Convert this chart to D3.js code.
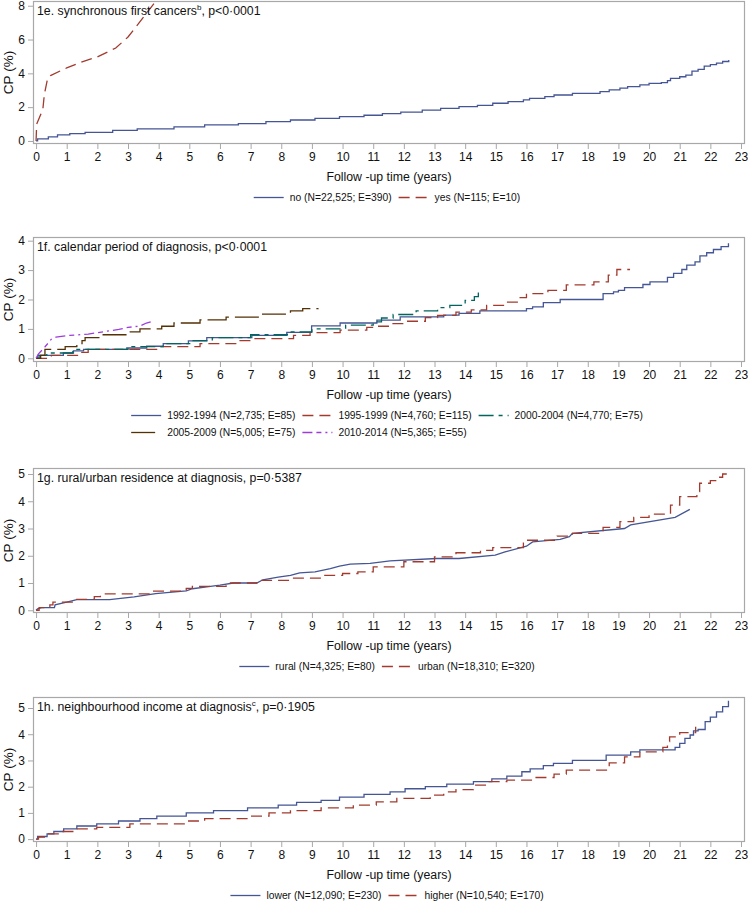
<!DOCTYPE html>
<html><head><meta charset="utf-8">
<script src="https://cdn.jsdelivr.net/npm/d3@7/dist/d3.min.js"></script>
<style>
body{margin:0;background:#fff}
svg{display:block}
text{font-family:"Liberation Sans",Arial,sans-serif;fill:#111}
</style>
</head><body>
<svg id="chart" width="748" height="904"></svg>
<script>
// ---------------- data ----------------
const xTickValues = [0,1,2,3,4,5,6,7,8,9,10,11,12,13,14,15,16,17,18,19,20,21,22,23];
const yTicksE = [0,2,4,6,8];
const yTicksF = [0,1,2,3,4];
const yTicksG = [0,1,2,3,4,5];
const yTicksH = [0,1,2,3,4,5];

const titleE = ["1e. synchronous first cancers","b",", p<0·0001"];
const titleF = ["1f. calendar period of diagnosis, p<0·0001","",""];
const titleG = ["1g. rural/urban residence at diagnosis, p=0·5387","",""];
const titleH = ["1h. neighbourhood income at diagnosis","c",", p=0·1905"];

const legendE = ["no (N=22,525; E=390)","yes (N=115; E=10)"];
const legendF = ["1992-1994 (N=2,735; E=85)","1995-1999 (N=4,760; E=115)","2000-2004 (N=4,770; E=75)","2005-2009 (N=5,005; E=75)","2010-2014 (N=5,365; E=55)"];
const legendG = ["rural (N=4,325; E=80)","urban (N=18,310; E=320)"];
const legendH = ["lower (N=12,090; E=230)","higher (N=10,540; E=170)"];

const xLabel = "Follow -up time (years)";
const yLabel = "CP (%)";

// 1e: synchronous first cancers
const eNo = [[0,0],[0.05,0.12],[0.4,0.24],[0.7,0.36],[1.1,0.43],[1.6,0.51],[2.5,0.63],[3.3,0.71],[4.5,0.83],[5.5,0.95],[6.6,1.03],[7.5,1.14],[8.3,1.24],[9.1,1.34],[9.9,1.44],[10.7,1.52],[11.3,1.62],[11.9,1.71],[12.6,1.83],[13.2,1.93],[13.8,2.03],[14.4,2.11],[14.9,2.23],[15.4,2.33],[15.9,2.43],[16.1,2.52],[16.6,2.62],[16.9,2.72],[17.5,2.82],[18.4,2.92],[18.7,3.02],[19.05,3.12],[19.3,3.22],[19.7,3.32],[20.0,3.41],[20.4,3.45],[20.6,3.57],[20.7,3.7],[21.0,3.8],[21.2,3.9],[21.4,4.13],[21.6,4.23],[21.8,4.43],[22.0,4.52],[22.2,4.61],[22.4,4.7],[22.6,4.79]];
const eYes = [[0,0],[0.02,1.0],[0.22,1.85],[0.27,2.75],[0.38,3.73],[0.47,3.87],[1.0,4.32],[1.55,4.71],[2.0,4.97],[2.6,5.5],[3.0,6.15],[3.88,8.2],[3.95,8.4]];

// 1f: calendar period
const f9294 = [[0,0],[0.05,0.1],[0.89,0.18],[1.22,0.25],[1.55,0.3],[2.96,0.35],[3.61,0.41],[4.15,0.5],[4.97,0.59],[5.57,0.7],[7.04,0.78],[8.18,0.88],[8.99,1.1],[9.92,1.2],[11.12,1.3],[11.88,1.41],[13.3,1.47],[13.8,1.53],[14.48,1.61],[16.0,1.69],[16.2,1.75],[16.55,1.89],[17.1,2.0],[18.5,2.2],[18.84,2.26],[19.0,2.31],[19.2,2.4],[19.8,2.51],[20.03,2.6],[20.6,2.75],[20.8,2.89],[21.07,3.02],[21.23,3.17],[21.5,3.28],[21.66,3.48],[21.88,3.59],[22.1,3.7],[22.35,3.8],[22.59,3.91]];
const f9599 = [[0,0],[0.5,0.1],[1.4,0.2],[1.7,0.3],[4.0,0.4],[5.35,0.5],[6.55,0.6],[7.09,0.67],[8.4,0.78],[8.94,0.87],[9.92,0.96],[10.79,1.05],[11.0,1.09],[11.55,1.18],[12.1,1.26],[12.7,1.38],[13.1,1.46],[13.7,1.57],[14.2,1.65],[14.7,1.8],[15.3,1.91],[15.7,2.06],[16.0,2.2],[16.7,2.31],[17.3,2.5],[18.2,2.6],[18.67,2.83],[18.95,3.02],[19.38,3.02]];
const f0004 = [[0,0],[0.1,0.1],[0.35,0.18],[1.2,0.3],[3.0,0.4],[4.15,0.5],[5.1,0.6],[5.75,0.7],[7.0,0.8],[8.2,0.9],[9.0,1.0],[10.1,1.13],[11.0,1.24],[11.27,1.37],[11.65,1.49],[12.4,1.61],[13.1,1.72],[13.5,1.8],[14.0,1.97],[14.3,2.1],[14.43,2.31]];
const f0509 = [[0,0],[0.15,0.1],[0.29,0.3],[0.95,0.4],[1.33,0.5],[1.5,0.6],[1.6,0.7],[2.1,0.8],[2.96,0.9],[3.39,1.0],[4.1,1.09],[4.5,1.2],[5.35,1.31],[6.2,1.4],[7.3,1.5],[8.3,1.61],[8.7,1.69],[9.2,1.7]];
const f1014 = [[0,0],[0.08,0.15],[0.3,0.4],[0.5,0.65],[0.65,0.72],[1.1,0.78],[1.7,0.82],[2.3,0.92],[2.7,0.98],[3.0,1.05],[3.4,1.1],[3.6,1.2],[3.85,1.27]];

// 1g: rural/urban
const gRural = [[0,0],[0.05,0.05],[0.18,0.1],[0.6,0.1],[0.62,0.2],[1.0,0.3],[1.33,0.39],[2.4,0.39],[3.2,0.49],[3.9,0.61],[4.9,0.71],[5.1,0.79],[5.57,0.86],[6.0,0.92],[6.44,1.0],[7.2,1.0],[7.4,1.12],[7.9,1.22],[8.3,1.28],[8.6,1.37],[9.1,1.41],[9.6,1.53],[9.9,1.62],[10.25,1.69],[10.9,1.72],[11.55,1.81],[13.07,1.9],[13.8,1.9],[14.98,2.02],[15.3,2.14],[16.0,2.35],[16.2,2.51],[17.1,2.6],[17.4,2.7],[17.5,2.82],[19.2,3.0],[19.4,3.13],[20.85,3.41],[21.33,3.7]];
const gUrban = [[0,0],[0.1,0.1],[0.45,0.2],[0.55,0.3],[1.3,0.4],[1.9,0.5],[2.1,0.6],[3.8,0.7],[4.9,0.8],[5.1,0.88],[6.2,1.0],[7.2,1.1],[8.3,1.18],[9.3,1.28],[10.0,1.35],[10.5,1.41],[11.0,1.59],[12.0,1.78],[13.0,1.96],[13.7,2.11],[14.5,2.2],[14.9,2.3],[15.9,2.57],[17.0,2.72],[17.5,2.82],[18.5,3.04],[19.05,3.25],[19.5,3.41],[20.0,3.53],[20.7,3.86],[21.0,4.17],[21.56,4.35],[21.65,4.66],[22.0,4.76],[22.2,4.88],[22.4,5.0],[22.59,5.13]];

// 1h: neighbourhood income
const hLower = [[0,0],[0.05,0.1],[0.36,0.2],[0.58,0.29],[0.9,0.39],[1.33,0.5],[1.98,0.58],[2.69,0.69],[3.39,0.78],[3.94,0.88],[4.9,1.0],[5.79,1.09],[6.9,1.19],[7.9,1.3],[8.5,1.4],[9.3,1.48],[9.9,1.6],[10.7,1.71],[11.55,1.8],[12.04,1.92],[12.7,2.0],[13.4,2.1],[14.27,2.19],[14.87,2.3],[15.36,2.4],[15.85,2.57],[16.12,2.68],[16.55,2.8],[16.88,2.89],[17.5,3.0],[18.6,3.2],[19.4,3.33],[19.7,3.4],[20.85,3.5],[21.0,3.65],[21.17,3.84],[21.34,3.97],[21.45,4.13],[21.6,4.18],[21.83,4.48],[22.0,4.65],[22.2,4.85],[22.4,5.05],[22.59,5.28]];
const hHigher = [[0,0],[0.08,0.08],[0.3,0.2],[0.78,0.29],[1.33,0.39],[1.98,0.45],[3.06,0.58],[4.9,0.69],[5.5,0.78],[6.98,0.88],[7.6,1.0],[8.3,1.09],[9.3,1.19],[10.35,1.3],[11.1,1.42],[11.77,1.55],[12.86,1.68],[13.3,1.8],[13.7,1.89],[14.27,2.06],[14.7,2.19],[15.36,2.25],[16.2,2.35],[16.9,2.48],[17.3,2.63],[18.7,2.91],[19.2,3.14],[19.7,3.33],[20.45,3.5],[20.6,3.72],[20.67,3.9],[21.0,4.06],[21.52,4.29]];

// ---------------- styles & layout ----------------
const styles = [
  {color:"#445694", dash:null},
  {color:"#A23A2E", dash:"11,6"},
  {color:"#01665E", dash:"15,5,4,5"},
  {color:"#543005", dash:"24,6"},
  {color:"#9D3CDB", dash:"10,4,5,4,2,4"}
];
const X0 = 33, X1 = 745;
const x = d3.scaleLinear().domain([-0.1, 23.13]).range([X0, X1]);
const curves = {step: d3.curveStepAfter, linear: d3.curveLinear};

const panels = [
  {id:"e", top:1, bottom:144, yDom:[-0.18,8.28], yTicks:yTicksE, title:titleE, labels:legendE, cols:2,
   series:[{d:eNo,c:"step",s:0},{d:eYes,c:"linear",s:1}]},
  {id:"f", top:237, bottom:362, yDom:[-0.126,4.125], yTicks:yTicksF, title:titleF, labels:legendF, cols:3,
   series:[{d:f9294,c:"step",s:0},{d:f9599,c:"step",s:1},{d:f0004,c:"step",s:2},{d:f0509,c:"step",s:3},{d:f1014,c:"linear",s:4}]},
  {id:"g", top:468, bottom:613, yDom:[-0.1,5.22], yTicks:yTicksG, title:titleG, labels:legendG, cols:2,
   series:[{d:gRural,c:"linear",s:0},{d:gUrban,c:"step",s:1}]},
  {id:"h", top:697, bottom:842, yDom:[-0.11,5.42], yTicks:yTicksH, title:titleH, labels:legendH, cols:2,
   series:[{d:hLower,c:"step",s:0},{d:hHigher,c:"step",s:1}]}
];

const svg = d3.select("#chart");
const frameColor = "#A8A8A8";

panels.forEach(p => {
  const y = d3.scaleLinear().domain(p.yDom).range([p.bottom, p.top]);
  const g = svg.append("g");

  g.append("clipPath").attr("id","clip-"+p.id).append("rect")
    .attr("x",X0).attr("y",p.top).attr("width",X1-X0).attr("height",p.bottom-p.top);

  // axes
  const xa = g.append("g").attr("transform",`translate(0,${p.bottom})`)
    .call(d3.axisBottom(x).tickValues(xTickValues).tickSize(5).tickPadding(3).tickFormat(d3.format("d")));
  const ya = g.append("g").attr("transform",`translate(${X0},0)`)
    .call(d3.axisLeft(y).tickValues(p.yTicks).tickSize(5).tickPadding(3).tickFormat(d3.format("d")));
  [xa,ya].forEach(a => {
    a.select(".domain").remove();
    a.selectAll(".tick line").attr("stroke",frameColor);
    a.selectAll(".tick text").attr("font-size",12).attr("font-family","'Liberation Sans',Arial,sans-serif").attr("fill","#111");
  });

  // frame
  g.append("rect").attr("x",X0+0.5).attr("y",p.top+0.5).attr("width",X1-X0-1).attr("height",p.bottom-p.top-1)
    .attr("fill","none").attr("stroke",frameColor).attr("stroke-width",1.2);

  // curves
  const lines = g.append("g").attr("clip-path",`url(#clip-${p.id})`);
  p.series.forEach(s => {
    const line = d3.line().x(d=>x(d[0])).y(d=>y(d[1])).curve(curves[s.c]);
    lines.append("path").datum(s.d).attr("d",line).attr("fill","none")
      .attr("stroke",styles[s.s].color).attr("stroke-width",1.3)
      .attr("stroke-dasharray",styles[s.s].dash);
  });

  // title
  const t = g.append("text").attr("x",37).attr("y",p.top+13.5).attr("font-size",12.3);
  t.append("tspan").text(p.title[0]);
  if (p.title[1]) {
    t.append("tspan").attr("font-size",8).attr("dy",-5).text(p.title[1]);
    t.append("tspan").attr("dy",5).text(p.title[2]);
  }

  // y label
  g.append("text").attr("transform",`translate(12.5,${(p.top+p.bottom)/2}) rotate(-90)`)
    .attr("text-anchor","middle").attr("font-size",13.5).text(yLabel);
  // x label
  g.append("text").attr("x",(X0+X1)/2).attr("y",p.bottom+37).attr("text-anchor","middle")
    .attr("font-size",12.3).text(xLabel);

  // legend
  const lg = g.append("g");
  const sampleLen = 30, textOff = 36, itemGap = 7, rowH = 17, fs = 10.3;
  const items = p.labels.map((lab,i) => {
    const it = lg.append("g");
    const st = styles[p.series[i].s];
    it.append("line").attr("x1",0).attr("x2",sampleLen).attr("y1",-3.5).attr("y2",-3.5)
      .attr("stroke",st.color).attr("stroke-width",1.3).attr("stroke-dasharray",st.dash);
    const tx = it.append("text").attr("x",textOff).attr("y",0).attr("font-size",fs).text(lab);
    return {g:it, w:textOff + tx.node().getComputedTextLength()};
  });
  const colW = [];
  items.forEach((it,i) => { const c = i % p.cols; colW[c] = Math.max(colW[c]||0, it.w); });
  const colX = []; let acc = 0;
  colW.forEach((w,c) => { colX[c] = acc; acc += w + itemGap; });
  const total = acc - itemGap;
  const startX = 387 - total/2;
  items.forEach((it,i) => {
    const c = i % p.cols, r = Math.floor(i / p.cols);
    it.g.attr("transform",`translate(${startX+colX[c]},${p.bottom+57+r*rowH})`);
  });
});
</script>
</body></html>
